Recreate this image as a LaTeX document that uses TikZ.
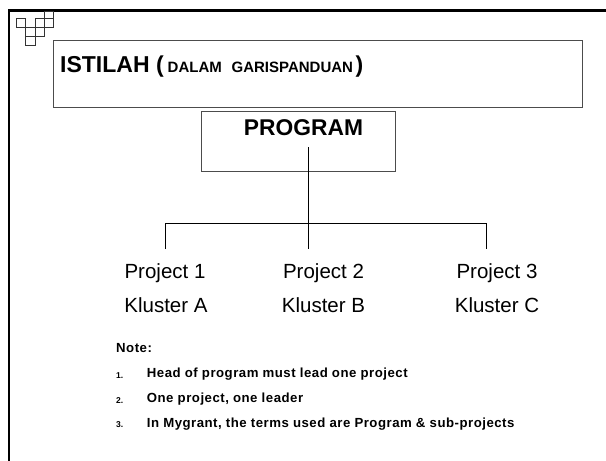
\documentclass[tikz,border=0pt]{standalone}
\usepackage{fontspec}
\setmainfont{Liberation Sans}
\newfontfamily\notefont[LetterSpace=3.8]{Liberation Sans}
\tikzset{
  framepen/.style={line width=2.3pt,black},
  boxpen/.style={draw=black!70,line width=0.9pt,fill=white,inner sep=0pt,anchor=north west},
  wire/.style={black,line width=0.8pt},
  cell/.style={draw=black!80,line width=0.7pt},
  biglabel/.style={font=\fontsize{20.5}{22}\selectfont,inner sep=0pt},
  notehead/.style={font=\notefont\bfseries\fontsize{13.2}{15}\selectfont,anchor=base west,inner sep=0pt},
  notenum/.style={font=\bfseries\fontsize{8.5}{10}\selectfont,anchor=base west,inner sep=0pt},
}
\begin{document}
\begin{tikzpicture}[x=1pt,y=-1pt]
\useasboundingbox (0,0) rectangle (606,461);
\fill[white] (0,0) rectangle (606,461);
\draw[framepen] (9,461) -- (9,10.5) -- (606,10.5);
% corner icon
\foreach \xa/\ya/\xb/\yb in {44.3/11/53.3/18.3, 16/18.3/25.7/27.7, 35/18.3/44.3/27.7, 44.3/18.3/53.3/27.7, 25.7/27.7/35/36.7, 35/27.7/44.3/36.7, 25.7/36.7/35/45.7}
  \draw[cell] (\xa,\ya) rectangle (\xb,\yb);
% title
\node[boxpen,minimum width=529pt,minimum height=67.5pt] (title) at (53,39.5) {};
\node[anchor=base west,inner sep=0pt,font=\bfseries\fontsize{23}{25}\selectfont] (titletext) at (60,72)
  {ISTILAH (\kern4pt\fontsize{15}{16}\selectfont DALAM\ \ \kern1.5pt GARISPANDUAN\kern2.5pt\fontsize{23}{25}\selectfont)};
% program
\node[boxpen,minimum width=194pt,minimum height=60pt] (prog) at (201,111) {};
\node[anchor=base,inner sep=0pt,font=\bfseries\fontsize{22.8}{25}\selectfont] (progtext) at (303.5,135.5) {PROGRAM};
% connectors
\coordinate (stem) at (308,147);
\coordinate (bus) at (308,223);
\coordinate (busl) at (165.5,223);
\coordinate (busr) at (486.5,223);
\coordinate (dl) at (165.5,249);
\coordinate (dm) at (308,249);
\coordinate (dr) at (486.5,249);
\draw[wire] (stem) -- (bus);
\draw[wire] (dl) -- (busl) -- (busr) -- (dr);
\draw[wire] (bus) -- (dm);
% projects
\node[biglabel,anchor=base] (p1) at (165,278) {Project 1};
\node[biglabel,anchor=base] (p2) at (323.5,278) {Project 2};
\node[biglabel,anchor=base] (p3) at (497,278) {Project 3};
\node[biglabel,anchor=base] (k1) at (166,312) {Kluster A};
\node[biglabel,anchor=base] (k2) at (323.5,312) {Kluster B};
\node[biglabel,anchor=base] (k3) at (497,312) {Kluster C};
% notes
\node[notehead] (note) at (116,352.5) {Note:};
\node[notenum] (n1) at (116,378) {1.};
\node[notehead] (t1) at (146.7,377.7) {Head of program must lead one project};
\node[notenum] (n2) at (116,403) {2.};
\node[notehead] (t2) at (146.7,402.7) {One project, one leader};
\node[notenum] (n3) at (116,427.5) {3.};
\node[notehead] (t3) at (146.7,427) {In Mygrant, the terms used are Program \& sub-projects};
\end{tikzpicture}
\end{document}
